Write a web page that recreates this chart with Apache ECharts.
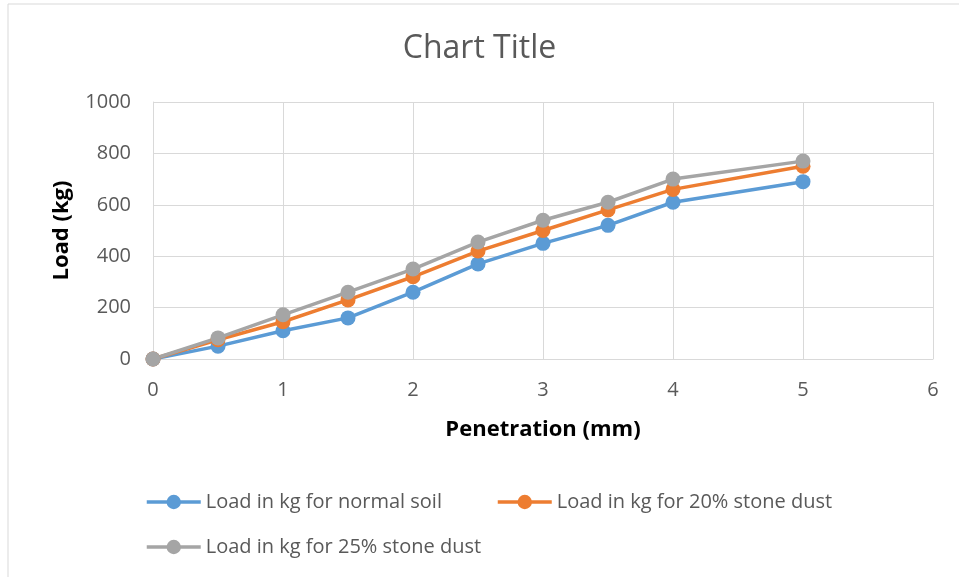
<!DOCTYPE html>
<html><head><meta charset="utf-8">
<script src="https://cdn.jsdelivr.net/npm/echarts@6/dist/echarts.min.js"></script>
<style>html,body{margin:0;padding:0;background:#fff}#c{width:959px;height:577px}</style>
</head><body><div id="c"></div>
<script>
const penetration = [0, 0.5, 1, 1.5, 2, 2.5, 3, 3.5, 4, 5];
const normalSoil = [0, 50, 110, 160, 260, 370, 450, 520, 610, 690];
const stone20 = [0, 75, 145, 230, 320, 420, 500, 580, 660, 750];
const stone25 = [0, 82, 172, 260, 350, 455, 540, 610, 700, 770];
const seriesNames = ['Load in kg for normal soil', 'Load in kg for 20% stone dust', 'Load in kg for 25% stone dust'];
const colors = ['#5b9bd5', '#ed7d31', '#a5a5a5'];
const font = 'Open Sans';
const chart = echarts.init(document.getElementById('c'), null, {renderer: 'canvas'});
const pairs = arr => penetration.map((x, i) => [x, arr[i]]);
const mk = (name, arr, color) => ({
  name, type: 'line', data: pairs(arr), symbol: 'circle', symbolSize: 15,
  lineStyle: {color, width: 3.5}, itemStyle: {color}, emphasis: {disabled: true}
});
const legendBase = {
  orient: 'horizontal', itemWidth: 54, itemHeight: 18, itemGap: 4, padding: 0,
  lineStyle: {width: 3.5},
  textStyle: {fontFamily: font, fontSize: 20, color: '#595959'}
};
chart.setOption({
  animation: false,
  color: colors,
  graphic: [{type: 'rect', shape: {x: 8, y: 4, width: 1000, height: 1000},
    style: {fill: 'none', stroke: '#d9d9d9', lineWidth: 1}, silent: true}],
  title: {text: 'Chart Title', left: 'center', top: 28,
    textStyle: {fontFamily: font, fontSize: 32, fontWeight: 'normal', color: '#595959'}},
  grid: {left: 153, right: 26, top: 102, bottom: 218},
  xAxis: {type: 'value', min: 0, max: 6, interval: 1,
    name: 'Penetration (mm)', nameLocation: 'middle', nameGap: 60,
    nameTextStyle: {fontFamily: font, fontSize: 22, fontWeight: 'bold', color: '#000'},
    axisLine: {lineStyle: {color: '#d9d9d9', width: 1}}, axisTick: {show: false},
    axisLabel: {fontFamily: font, fontSize: 20, color: '#595959', margin: 21},
    splitLine: {lineStyle: {color: '#d9d9d9', width: 1}}},
  yAxis: {type: 'value', min: 0, max: 1000, interval: 200,
    name: 'Load (kg)', nameLocation: 'middle', nameGap: 80, nameRotate: 90,
    nameTextStyle: {fontFamily: font, fontSize: 22, fontWeight: 'bold', color: '#000'},
    axisLine: {show: true, lineStyle: {color: '#d9d9d9', width: 1}}, axisTick: {show: false},
    axisLabel: {fontFamily: font, fontSize: 20, color: '#595959', margin: 22, formatter: v => String(v)},
    splitLine: {lineStyle: {color: '#d9d9d9', width: 1}}},
  legend: [
    Object.assign({}, legendBase, {data: [seriesNames[0]], left: 145, top: 492}),
    Object.assign({}, legendBase, {data: [seriesNames[1]], left: 496, top: 492}),
    Object.assign({}, legendBase, {data: [seriesNames[2]], left: 145, top: 537})
  ],
  series: [mk(seriesNames[0], normalSoil, colors[0]), mk(seriesNames[1], stone20, colors[1]), mk(seriesNames[2], stone25, colors[2])]
});
</script></body></html>
